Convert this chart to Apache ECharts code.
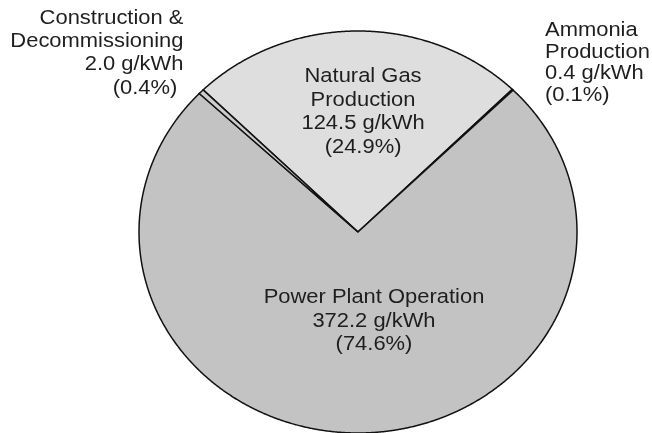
<!DOCTYPE html>
<html><head><meta charset="utf-8">
<script src="https://cdn.jsdelivr.net/npm/echarts@6/dist/echarts.min.js"></script>
<style>html,body{margin:0;padding:0;background:#fff}#c{width:652px;height:433px}</style>
</head><body><div id="c"></div>
<script>
// ---- data ----
const categories = ['Natural Gas Production', 'Ammonia Production', 'Power Plant Operation', 'Construction & Decommissioning'];
const values = [124.5, 0.4, 372.2, 2.0];           // g/kWh
const shares = ['24.9%', '0.1%', '74.6%', '0.4%'];
const labelLines = [
  ['Natural Gas', 'Production'],
  ['Ammonia', 'Production'],
  ['Power Plant Operation'],
  ['Construction &', 'Decommissioning']
];
const unit = 'g/kWh';

// ---- styles / layout ----
const fills = ['#dedede', '#ffffff', '#c3c3c3', '#cdcdcd'];
const startAngle = 135; // degrees, slices run clockwise
// label anchor in ellipse-normalised coords, alignment, line height
const labelLayout = [
  {x: 0.023, y: 0.597, align: 'center', lh: 23.5},
  {x: 0.854, y: 0.842, align: 'left', lh: 21.8},
  {x: 0.073, y: -0.443, align: 'center', lh: 23.5},
  {x: -0.797, y: 0.890, align: 'right', lh: 23.3}
];
const trailing = ['', '', '', ' '];

const total = values.reduce((a, b) => a + b, 0);
let acc = startAngle;
const sliceData = values.map((v, i) => {
  const a0 = acc;
  const a1 = acc - v / total * 360;
  acc = a1;
  return {value: [a0, a1, i], name: categories[i]};
});

const chart = echarts.init(document.getElementById('c'), null, {renderer: 'canvas'});
chart.setOption({
  animation: false,
  backgroundColor: '#ffffff',
  grid: {left: 139, width: 438, top: 31, height: 404},
  xAxis: {type: 'value', min: -1, max: 1, show: false},
  yAxis: {type: 'value', min: -1, max: 1, show: false},
  series: [{
    type: 'custom',
    coordinateSystem: 'cartesian2d',
    data: sliceData,
    renderItem: function (params, api) {
      const a0 = api.value(0), a1 = api.value(1), i = api.value(2);
      const pts = [api.coord([0, 0])];
      const n = Math.max(2, Math.ceil(Math.abs(a0 - a1) / 0.25));
      for (let k = 0; k <= n; k++) {
        const t = (a0 + (a1 - a0) * k / n) * Math.PI / 180;
        pts.push(api.coord([Math.cos(t), Math.sin(t)]));
      }
      const L = labelLayout[i];
      const p = api.coord([L.x, L.y]);
      const txt = labelLines[i].concat([values[i].toFixed(1) + ' ' + unit, '(' + shares[i] + ')' + trailing[i]]).join('\n');
      return {
        type: 'group',
        children: [
          {type: 'polygon', shape: {points: pts},
           style: {fill: fills[i], stroke: '#111111', lineWidth: 1.5, lineJoin: 'miter'}},
          {type: 'text', x: p[0], y: p[1], scaleX: 1.07, z2: 100,
           style: {text: txt, fill: '#1e1e1e', fontSize: 20.5,
                   fontFamily: '"Liberation Sans", Arial, Helvetica, sans-serif',
                   align: L.align, verticalAlign: 'middle', lineHeight: L.lh}}
        ]
      };
    }
  }]
});
</script>
</body></html>
